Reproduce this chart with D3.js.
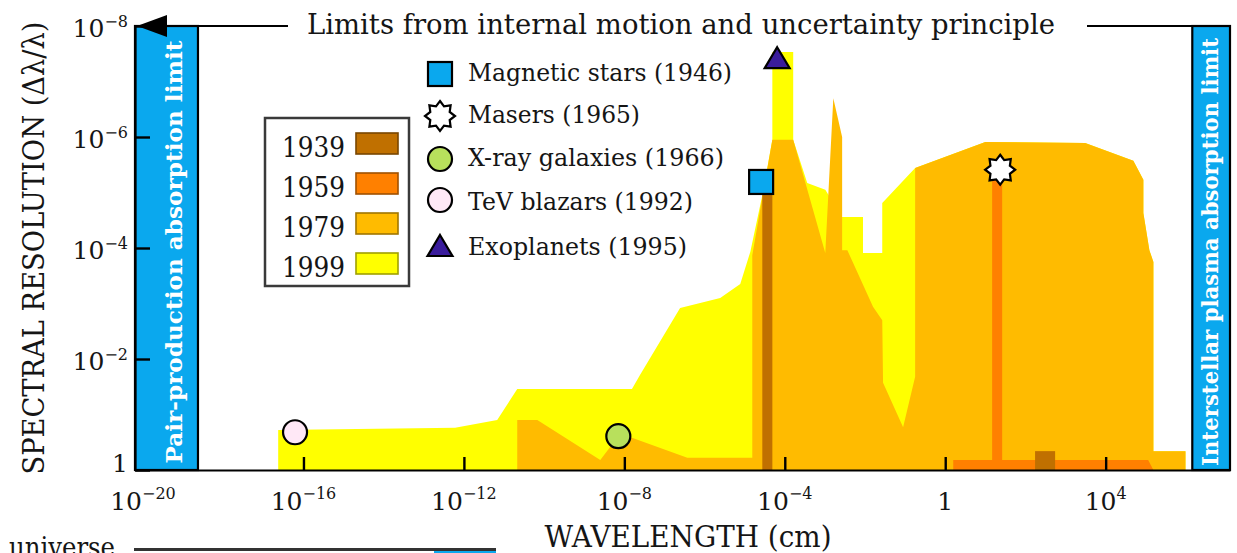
<!DOCTYPE html>
<html>
<head>
<meta charset="utf-8">
<script src="https://cdn.jsdelivr.net/npm/d3@7/dist/d3.min.js"></script>
<style>
html,body{margin:0;padding:0;background:#fff;}
svg{display:block;}
text{font-family:"DejaVu Serif",serif;fill:#151515;}
</style>
</head>
<body>
<svg id="chart" width="1237" height="553"></svg>
<script>
// ---------- DATA (log10 of wavelength in cm, log10 of Δλ/λ) ----------
const xDomainExp = [-20.2, 7.1];
const yDomainExp = [0, -8];
const xTickExp = [-20, -16, -12, -8, -4, 0, 4];
const yTickExp = [-8, -6, -4, -2, 0];

const eraYears = ["1939", "1959", "1979", "1999"];
const eraColors = ["#c07000", "#ff8000", "#ffbb00", "#ffff00"];

const area1999 = [[-16.63,0],[-16.63,-0.72],[-12.22,-0.76],[-11.17,-0.90],[-10.67,-1.46],[-7.81,-1.46],
  [-7.61,-1.71],[-6.61,-2.92],[-5.61,-3.10],[-5.11,-3.35],[-4.86,-3.93],[-4.56,-4.95],[-4.31,-5.95],
  [-4.31,-7.53],[-3.79,-7.53],[-3.79,-5.95],[-3.44,-5.17],[-2.99,-5.05],[-2.57,-4.56],[-2.05,-4.56],
  [-2.05,-3.91],[-1.57,-3.91],[-1.57,-4.81],[-0.75,-5.44],[1.00,-5.91],[3.49,-5.89],[4.69,-5.57],
  [4.94,-5.23],[4.94,-4.63],[5.09,-3.96],[5.19,-3.75],[5.19,-0.34],[5.99,-0.34],[5.99,0]];

const area1979 = [[-10.67,0],[-10.67,-0.90],[-10.17,-0.90],[-8.60,-0.18],[-8.15,-0.61],[-7.81,-0.58],
  [-6.43,-0.22],[-4.81,-0.22],[-4.81,-3.87],[-4.31,-5.95],[-3.79,-5.95],[-2.99,-3.91],[-2.79,-6.70],
  [-2.57,-6.00],[-2.57,-3.96],[-2.44,-3.96],[-1.80,-2.94],[-1.57,-2.70],[-1.55,-1.57],[-1.05,-0.77],
  [-0.75,-1.68],[-0.75,-5.44],[1.00,-5.91],[3.49,-5.89],[4.69,-5.57],[4.94,-5.23],[4.94,-4.63],
  [5.09,-3.96],[5.19,-3.75],[5.19,-0.34],[5.99,-0.34],[5.99,0]];

const band1959 = [[0.20,0],[0.20,-0.18],[5.06,-0.18],[5.19,0]];
const stem1959 = [[1.17,-5.41],[1.42,0]];
const stem1939 = [[-4.56,-5.19],[-4.31,0]];
const block1939 = [[2.24,-0.34],[2.74,0]];

const limitBands = [[-20.2,-18.63],[6.16,7.1]];
const limitLabels = ["Pair-production absorption limit","Interstellar plasma absorption limit"];

const discoveryNames = ["Magnetic stars (1946)","Masers (1965)","X-ray galaxies (1966)","TeV blazars (1992)","Exoplanets (1995)"];
const discoveryWl  = [-4.59, 1.37, -8.15, -16.21, -4.19];
const discoveryRes = [-5.19, -5.41, -0.61, -0.68, -7.42];
const discoverySymbols = ["square","star","circle","circle","triangle"];
const discoveryColors = ["#0aa8ee","#ffffff","#b8e05c","#ffe8f6","#3a1c9c"];

const topLabel = "Limits from internal motion and uncertainty principle";
const xLabel = "WAVELENGTH (cm)";
const yLabel = "SPECTRAL RESOLUTION (Δλ/λ)";
const fragmentLabel = "universe";

// ---------- RENDER ----------
const svg = d3.select("#chart");
const X0 = 135, X1 = 1230, Y0 = 470, Y1 = 26;
const BLUE = "#0aa8ee";
const x = d3.scaleLog().domain(xDomainExp.map(e => Math.pow(10, e))).range([X0, X1]);
const y = d3.scaleLog().domain(yDomainExp.map(e => Math.pow(10, e))).range([Y0, Y1]);
const px = e => x(Math.pow(10, e));
const py = e => y(Math.pow(10, e));
const lineGen = d3.line().x(d => px(d[0])).y(d => py(d[1]));
const box = c => [[c[0][0], c[0][1]], [c[1][0], c[0][1]], [c[1][0], c[1][1]], [c[0][0], c[1][1]]];
const fit = (sel, w) => sel.attr("textLength", w).attr("lengthAdjust", "spacingAndGlyphs");

// areas
const gA = svg.append("g");
gA.append("path").attr("d", lineGen(area1999) + "Z").attr("fill", eraColors[3]);
gA.append("path").attr("d", lineGen(area1979) + "Z").attr("fill", eraColors[2]);
gA.append("path").attr("d", lineGen(band1959) + "Z").attr("fill", eraColors[1]);
gA.append("path").attr("d", lineGen(box(stem1959)) + "Z").attr("fill", eraColors[1]);
gA.append("path").attr("d", lineGen(box(stem1939)) + "Z").attr("fill", eraColors[0]);
gA.append("path").attr("d", lineGen(box(block1939)) + "Z").attr("fill", eraColors[0]);

// x axis
const xAxis = d3.axisBottom(x).tickValues(xTickExp.map(e => Math.pow(10, e)))
  .tickSizeInner(-13).tickSizeOuter(0).tickFormat(() => "");
const gx = svg.append("g").attr("transform", `translate(0,${Y0})`).call(xAxis);
gx.select(".domain").attr("stroke", "#000").attr("stroke-width", 2.2);
gx.selectAll(".tick line").attr("stroke", "#000").attr("stroke-width", 2.4);
gx.selectAll(".tick text").remove();

function sci(sel, e, supSize, dy) {
  if (e === 0) { sel.text("1"); return; }
  sel.append("tspan").text("10");
  sel.append("tspan").attr("dy", dy).attr("font-size", supSize).text(e < 0 ? "−" + (-e) : String(e));
}
xTickExp.forEach(e => {
  const t = svg.append("text").attr("x", px(e)).attr("y", 510)
    .attr("text-anchor", "middle").attr("font-size", 25);
  sci(t, e, 16, -11);
});

// limit bands
limitBands.forEach((b, i) => {
  const xa = px(b[0]), xb = px(b[1]);
  svg.append("rect").attr("x", xa).attr("y", Y1).attr("width", xb - xa).attr("height", Y0 - Y1)
    .attr("fill", BLUE).attr("stroke", "#000").attr("stroke-width", 2.2);
  const bx = i === 0 ? 182 : 1218;
  const t = svg.append("text").attr("transform", `translate(${bx},${(Y0 + Y1) / 2 + 4}) rotate(-90)`)
    .attr("text-anchor", "middle").attr("font-size", 22).attr("font-weight", "bold")
    .style("fill", "#fff").text(limitLabels[i]);
  fit(t, i === 0 ? 423 : 428);
});

// y axis
const yAxis = d3.axisLeft(y).tickValues(yTickExp.map(e => Math.pow(10, e)))
  .tickSizeInner(-15).tickSizeOuter(0).tickFormat(() => "");
const gy = svg.append("g").attr("transform", `translate(${X0},0)`).call(yAxis);
gy.select(".domain").attr("stroke", "#000").attr("stroke-width", 2.2);
gy.selectAll(".tick line").attr("stroke", "#000").attr("stroke-width", 2.4);
gy.selectAll(".tick text").remove();
yTickExp.forEach(e => {
  const t = svg.append("text").attr("x", 128).attr("y", e === 0 ? py(e) + 2 : py(e) + 11)
    .attr("text-anchor", "end").attr("font-size", 25);
  sci(t, e, 16, -10);
});

// top limit line with arrow
svg.append("line").attr("x1", 150).attr("x2", 288).attr("y1", Y1).attr("y2", Y1)
  .attr("stroke", "#000").attr("stroke-width", 2.2);
svg.append("line").attr("x1", 1087).attr("x2", X1).attr("y1", Y1).attr("y2", Y1)
  .attr("stroke", "#000").attr("stroke-width", 2.2);
svg.append("path").attr("d", `M137,${Y1} L167,${Y1 - 11} L167,${Y1 + 11} Z`).attr("fill", "#000");
fit(svg.append("text").attr("x", 681).attr("y", 34).attr("text-anchor", "middle")
  .attr("font-size", 27.5).text(topLabel), 748);

// symbols
function star(cx, cy, R, r) {
  const pts = [];
  for (let k = 0; k < 16; k++) {
    const a = -Math.PI / 2 + k * Math.PI / 8;
    const rr = k % 2 === 0 ? R : r;
    pts.push([cx + rr * Math.cos(a), cy + rr * Math.sin(a)]);
  }
  return "M" + pts.map(p => p.join(",")).join("L") + "Z";
}
function drawSymbol(g, type, cx, cy, color) {
  const s = { stroke: "#000", "stroke-width": 2.2 };
  let el;
  if (type === "square") el = g.append("rect").attr("x", cx - 12).attr("y", cy - 12).attr("width", 24).attr("height", 24);
  else if (type === "circle") el = g.append("circle").attr("cx", cx).attr("cy", cy).attr("r", 12);
  else if (type === "triangle") el = g.append("path").attr("d", `M${cx},${cy - 11}L${cx + 12.5},${cy + 10}L${cx - 12.5},${cy + 10}Z`);
  else el = g.append("path").attr("d", star(cx, cy, 15, 10.5));
  el.attr("fill", color);
  Object.entries(s).forEach(([k, v]) => el.attr(k, v));
}
const gM = svg.append("g");
discoveryNames.forEach((n, i) => drawSymbol(gM, discoverySymbols[i], px(discoveryWl[i]), py(discoveryRes[i]), discoveryColors[i]));

// marker legend
const legY = [74, 116, 159, 200, 246];
const legBase = [81, 123, 166, 210, 255];
const legLen = [264, 172, 256, 225, 219];
discoveryNames.forEach((n, i) => {
  drawSymbol(svg, discoverySymbols[i], 440, legY[i], discoveryColors[i]);
  fit(svg.append("text").attr("x", 468).attr("y", legBase[i]).attr("font-size", 23.5).text(n), legLen[i]);
});

// era legend
svg.append("rect").attr("x", 265).attr("y", 118).attr("width", 144).attr("height", 168)
  .attr("fill", "#fff").attr("stroke", "#3a3a3a").attr("stroke-width", 2.5);
eraYears.forEach((yr, i) => {
  fit(svg.append("text").attr("x", 282).attr("y", 157 + 40 * i).attr("font-size", 28).text(yr), 63);
  svg.append("rect").attr("x", 356).attr("y", 133 + 40 * i).attr("width", 42).attr("height", 21)
    .attr("fill", eraColors[i]).attr("stroke", d3.color(eraColors[i]).darker(1.3)).attr("stroke-width", 1.6);
});

// axis titles
fit(svg.append("text").attr("x", 688).attr("y", 547).attr("text-anchor", "middle")
  .attr("font-size", 29).text(xLabel), 287);
fit(svg.append("text").attr("transform", "translate(44,248) rotate(-90)").attr("text-anchor", "middle")
  .attr("font-size", 29).text(yLabel), 453);

// fragment of a chart below
fit(svg.append("text").attr("x", 9).attr("y", 557).attr("font-size", 28).text(fragmentLabel), 106);
svg.append("line").attr("x1", 134).attr("x2", 496).attr("y1", 549.5).attr("y2", 549.5)
  .attr("stroke", "#333").attr("stroke-width", 3);
svg.append("rect").attr("x", 434).attr("y", 551).attr("width", 62).attr("height", 4).attr("fill", BLUE);
</script>
</body>
</html>
